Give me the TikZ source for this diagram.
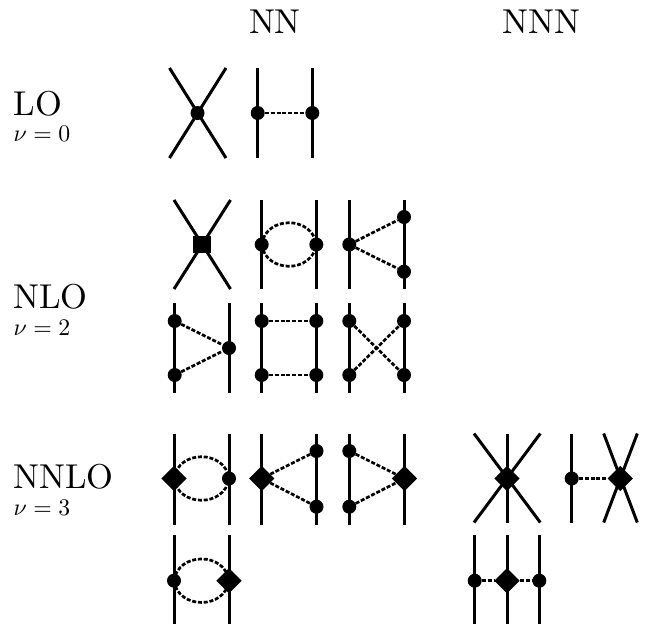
\documentclass[tikz,border=0pt]{standalone}
\usepackage{graphicx}
\usetikzlibrary{shapes.geometric}
\newcommand{\headtext}[1]{\scalebox{3.45}{#1}}
\newcommand{\subtext}[1]{\scalebox{2.38}{$\nu=#1$}}
\tikzset{
  x=1pt,y=-1pt,
  dot/.style={circle,fill=black,inner sep=0pt,minimum size=14pt},
  dia/.style={diamond,fill=black,inner sep=0pt,minimum size=25.5pt},
  sq/.style={rectangle,fill=black,inner sep=0pt,minimum size=17.5pt},
  fline/.style={line width=3pt,black},
  pion/.style={line width=2.7pt,black,dash pattern=on 4pt off 1.8pt},
  lab/.style={anchor=base west,inner sep=0pt,outer sep=0pt},
}
% leg: name, x, top y, bottom y -- a straight fermion line between two named end points
\newcommand{\leg}[4]{\coordinate (#1t) at (#2,#3);\coordinate (#1b) at (#2,#4);\draw[fline] (#1t) -- (#1b);}
% crossing: name, left x, right x, top y, bottom y
\newcommand{\crossing}[5]{\coordinate (#1a) at (#2,#4);\coordinate (#1b) at (#3,#4);\coordinate (#1c) at (#2,#5);\coordinate (#1d) at (#3,#5);\draw[fline] (#1a) -- (#1d);\draw[fline] (#1b) -- (#1c);}
\newcommand{\loopup}[2]{\draw[pion] (#1.center) .. controls +(4,-29) and +(-4,-29) .. (#2.center);}
\newcommand{\loopdown}[2]{\draw[pion] (#1.center) .. controls +(4,29) and +(-4,29) .. (#2.center);}
\begin{document}
\begin{tikzpicture}
\useasboundingbox (0,0) rectangle (647,624);
% titles
\node[lab] (tNN) at (249,33.3) {\headtext{NN}};
\node[lab] (tNNN) at (502.3,33.3) {\headtext{NNN}};
\node[lab] (tLO) at (13.5,115.3) {\headtext{LO}};
\node[lab] (sLO) at (13.5,141.8) {\subtext{0}};
\node[lab] (tNLO) at (13.5,308.3) {\headtext{NLO}};
\node[lab] (sNLO) at (13.5,335) {\subtext{2}};
\node[lab] (tNNLO) at (13.5,488.3) {\headtext{NNLO}};
\node[lab] (sNNLO) at (13.5,515) {\subtext{3}};
% LO
\node[dot] (a) at (197.5,113) {};
\crossing{ax}{169.5}{226}{68}{158}
\node[dot] (b1) at (257.7,113) {};
\node[dot] (b2) at (312.3,113) {};
\leg{bl}{257.7}{68}{158}\leg{br}{312.3}{68}{158}
\draw[pion] (b1) -- (b2);
% NLO row 1
\node[sq] (c) at (202,244.5) {};
\crossing{cx}{174}{230.5}{200}{289}
\node[dot] (d1) at (261.7,244.5) {};
\node[dot] (d2) at (316.3,244.5) {};
\leg{dl}{261.7}{200}{289}\leg{dr}{316.3}{200}{289}
\loopup{d1}{d2}\loopdown{d1}{d2}
\node[dot] (e1) at (349.3,244.5) {};
\node[dot] (e2) at (404,217) {};
\node[dot] (e3) at (404,271.7) {};
\leg{el}{349.3}{200}{289}\leg{er}{404}{200}{289}
\draw[pion] (e1) -- (e2);\draw[pion] (e1) -- (e3);
% NLO row 2
\node[dot] (f1) at (174.7,321) {};
\node[dot] (f2) at (174.7,375) {};
\node[dot] (f3) at (229,348) {};
\leg{fl}{174.7}{303}{393}\leg{fr}{229}{303}{393}
\draw[pion] (f1) -- (f3);\draw[pion] (f2) -- (f3);
\node[dot] (g1) at (261.7,321) {};
\node[dot] (g2) at (261.7,375) {};
\node[dot] (g3) at (316.3,321) {};
\node[dot] (g4) at (316.3,375) {};
\leg{gl}{261.7}{303}{393}\leg{gr}{316.3}{303}{393}
\draw[pion] (g1) -- (g3);\draw[pion] (g2) -- (g4);
\node[dot] (h1) at (349.3,321) {};
\node[dot] (h2) at (349.3,375) {};
\node[dot] (h3) at (404,321) {};
\node[dot] (h4) at (404,375) {};
\leg{hl}{349.3}{303}{393}\leg{hr}{404}{303}{393}
\draw[pion] (h1) -- (h4);\draw[pion] (h2) -- (h3);
% NNLO row 1
\node[dia] (i1) at (174,478.5) {};
\node[dot] (i2) at (229,478.5) {};
\leg{il}{174}{433.5}{524.5}\leg{ir}{229}{433.5}{524.5}
\loopup{i1}{i2}\loopdown{i1}{i2}
\node[dia] (j1) at (261.7,478.5) {};
\node[dot] (j2) at (316.5,451) {};
\node[dot] (j3) at (316.5,506.7) {};
\leg{jl}{261.7}{433.5}{524.5}\leg{jr}{316.5}{433.5}{524.5}
\draw[pion] (j1) -- (j2);\draw[pion] (j1) -- (j3);
\node[dot] (k1) at (349.3,451) {};
\node[dot] (k2) at (349.3,506.7) {};
\node[dia] (k3) at (404.5,478.5) {};
\leg{kl}{349.3}{433.5}{524.5}\leg{kr}{404.5}{433.5}{524.5}
\draw[pion] (k1) -- (k3);\draw[pion] (k2) -- (k3);
% NNLO row 2
\node[dot] (l1) at (174,580.7) {};
\node[dia] (l2) at (229,580.7) {};
\leg{ll}{174}{535}{624}\leg{lr}{229}{535}{624}
\loopup{l1}{l2}\loopdown{l1}{l2}
% NNN row 1
\node[dia] (m) at (507,478.5) {};
\crossing{mx}{474}{540.3}{433.5}{522.5}
\leg{mv}{507}{433.5}{522.5}
\node[dot] (n1) at (571.7,478.5) {};
\node[dia] (n2) at (620.3,478.5) {};
\leg{nv}{571.7}{433.5}{522.5}
\crossing{nx}{603.7}{637.3}{433.5}{522.5}
\draw[pion] (n1) -- (n2);
% NNN row 2
\node[dot] (o1) at (474.7,580.7) {};
\node[dia] (o2) at (507,580.7) {};
\node[dot] (o3) at (539.3,580.7) {};
\leg{ol}{474.7}{535}{624}\leg{om}{507}{535}{624}\leg{or}{539.3}{535}{624}
\draw[pion] (o1) -- (o2);\draw[pion] (o2) -- (o3);
\end{tikzpicture}
\end{document}
